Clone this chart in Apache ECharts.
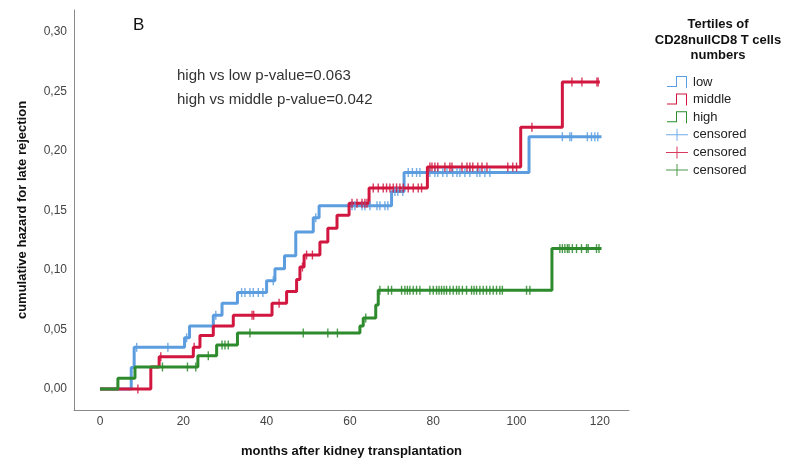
<!DOCTYPE html>
<html lang="en">
<head>
<meta charset="UTF-8">
<title>Cumulative hazard</title>
<script src="https://cdn.jsdelivr.net/npm/echarts@6/dist/echarts.min.js"></script>
<style>
    html, body { margin: 0; padding: 0; background: #fff; }
    #chart { width: 791px; height: 461px; }
</style>
</head>
<body>
<div id="chart"></div>
<script>
    // tick labels
    var xTicks = [0, 20, 40, 60, 80, 100, 120];
    var yTicks = [0, 0.05, 0.10, 0.15, 0.20, 0.25, 0.30];

    // step points [month, cumulative hazard]
    var lowSteps = [[0, 0], [7.5, 0.018], [8.2, 0.035], [20.3, 0.043], [21.5, 0.053], [27.2, 0.062], [29.3, 0.072],
        [33, 0.081], [40, 0.091], [42, 0.101], [44.3, 0.112], [47, 0.132], [51.2, 0.144], [52.6, 0.154],
        [70, 0.166], [73, 0.182], [103, 0.212], [120.4, 0.212]];
    var middleSteps = [[0, 0], [12.2, 0.0185], [14.2, 0.027], [22.4, 0.035], [24, 0.045], [27.2, 0.053], [32, 0.062],
        [41.3, 0.072], [44.8, 0.082], [47.2, 0.092], [48, 0.1025], [49, 0.1126], [52.8, 0.1235], [54.7, 0.135],
        [56.9, 0.146], [59.8, 0.156], [64.6, 0.169], [78.6, 0.1865], [101, 0.22], [111, 0.258], [120, 0.258]];
    var highSteps = [[0, 0], [4.3, 0.009], [8.4, 0.0185], [23.5, 0.028], [28, 0.037], [33, 0.047], [62.4, 0.053],
        [63.2, 0.0597], [66.2, 0.0706], [66.8, 0.083], [108.5, 0.118], [120.4, 0.118]];

    // censoring times
    var lowCensored = [8.8, 16.3, 20.8, 27.8, 34, 34.8, 36, 36.8, 38, 39.1, 41.6, 51.8, 60.5, 61.2, 62.9, 63.6, 64.8,
        66.5, 67.2, 68.4, 69.1, 70.8, 71.5, 72.7, 74, 75, 76, 76.8, 79.2, 80.4, 81.1, 82.3, 83.3, 84.7, 85.7, 86.4,
        87.6, 88.8, 90.5, 91.2, 92.4, 93.6, 111, 112.8, 113.2, 117, 118, 118.8, 119.5];
    var middleCensored = [9.1, 14.6, 22.6, 36.5, 36.9, 43, 48.6, 49.6, 51, 60.5, 61.7, 62.9, 63.6, 64.1, 65.6, 66.8,
        68, 68.8, 69.6, 70.4, 71.2, 72, 72.8, 74, 75.2, 76.4, 77.2, 79.2, 79.7, 80.4, 81.1, 82.8, 84, 84.5, 86.9,
        88.1, 88.8, 89.5, 90.7, 91.7, 92.9, 97.9, 99.1, 100, 103.7, 113.3, 115.7, 119.3, 119.6];
    var highCensored = [15, 21, 23, 26, 29.3, 30, 30.8, 36, 48.8, 54.7, 57, 63.8, 67.2, 69.2, 70, 72.4, 73.2, 73.8,
        74.4, 75.2, 76, 76.8, 79.2, 80, 80.8, 81.4, 82, 82.6, 83.2, 84, 84.8, 85.6, 86.2, 87, 88, 89.2, 89.8, 90.4,
        91.2, 92, 92.8, 93.6, 94.4, 95.2, 96, 96.6, 102.4, 103.2, 110.4, 111, 111.6, 112.2, 112.6, 113.4, 114.4,
        115.6, 116.8, 117.2, 119.2, 119.8];

    var groupNames = ['low', 'middle', 'high'];
    var censorNames = ['censored', 'censored ', 'censored  '];
    var colors = ['#5c9ddf', '#d1163f', '#2d8a2d'];

    function hazardAt(steps, t) {
        var h = 0;
        for (var i = 0; i < steps.length; i++) {
            if (steps[i][0] <= t) h = steps[i][1];
        }
        return h;
    }
    function censorPoints(steps, times) {
        return times.map(function (t) { return [t, hazardAt(steps, t)]; });
    }

    var font = 'Liberation Sans, Arial, sans-serif';
    var stepIcon = 'path://M0,10 L9,10 L9,0 L20,0 L20,12 L19,12 L19,1 L10,1 L10,11 L0,11 Z';
    var plusIcon = 'path://M0,5.5 L22,5.5 L22,6.5 L0,6.5 Z M10.5,0 L11.5,0 L11.5,12 L10.5,12 Z';

    var allSteps = [lowSteps, middleSteps, highSteps];
    var allCensored = [lowCensored, middleCensored, highCensored];

    var series = [];
    groupNames.forEach(function (name, i) {
        series.push({
            name: name,
            type: 'line',
            step: 'end',
            data: allSteps[i],
            showSymbol: false,
            lineStyle: { width: 3, color: colors[i] },
            itemStyle: { color: colors[i] },
            z: 2
        });
    });
    censorNames.forEach(function (name, i) {
        series.push({
            name: name,
            type: 'scatter',
            data: censorPoints(allSteps[i], allCensored[i]),
            symbol: 'rect',
            symbolSize: [1.4, 9],
            itemStyle: { color: colors[i], opacity: 0.85 },
            z: 3
        });
    });

    var legendData = groupNames.map(function (n) { return { name: n, icon: stepIcon }; })
        .concat(censorNames.map(function (n) { return { name: n, icon: plusIcon }; }));

    var option = {
        animation: false,
        backgroundColor: '#fff',
        textStyle: { fontFamily: font },
        grid: { left: 74, right: 162, top: 10, bottom: 51, outerBoundsMode: 'none', containLabel: false },
        xAxis: {
            type: 'value',
            min: -6.24,
            max: 127,
            name: 'months after kidney transplantation',
            nameLocation: 'middle',
            nameGap: 35,
            nameTextStyle: { fontSize: 13, fontWeight: 'bold', color: '#111', fontFamily: font },
            axisLine: { onZero: false, lineStyle: { color: '#8a8a8a', width: 1 } },
            axisTick: { show: false },
            splitLine: { show: false },
            axisLabel: { customValues: xTicks, color: '#444', fontSize: 12, margin: 6, fontFamily: font }
        },
        yAxis: {
            type: 'value',
            min: -0.01765,
            max: 0.3185,
            name: 'cumulative hazard for late rejection',
            nameLocation: 'middle',
            nameGap: 45,
            nameTextStyle: { fontSize: 13, fontWeight: 'bold', color: '#111', fontFamily: font },
            axisLine: { onZero: false, show: true, lineStyle: { color: '#8a8a8a', width: 1 } },
            axisTick: { show: false },
            splitLine: { show: false },
            axisLabel: {
                customValues: yTicks, color: '#444', fontSize: 12, margin: 7, fontFamily: font,
                formatter: function (v) { return v.toFixed(2).replace('.', ','); }
            }
        },
        legend: {
            orient: 'vertical',
            left: 661,
            top: 70,
            itemWidth: 22,
            itemHeight: 12,
            itemGap: 3.6,
            data: legendData,
            textStyle: { fontSize: 13, color: '#222', fontFamily: font, lineHeight: 14 }
        },
        graphic: [
            { type: 'text', left: 133, top: 17, style: { text: 'B', fill: '#111', font: '17px ' + font } },
            { type: 'text', left: 177, top: 68, style: { text: 'high vs low p-value=0.063', fill: '#333', font: '15px ' + font } },
            { type: 'text', left: 177, top: 92, style: { text: 'high vs middle p-value=0.042', fill: '#333', font: '15px ' + font } },
            {
                type: 'text', x: 718, y: 17,
                style: {
                    text: 'Tertiles of\nCD28nullCD8 T cells\nnumbers',
                    align: 'center', fill: '#111', lineHeight: 15.5,
                    font: 'bold 13px ' + font
                }
            }
        ],
        series: series
    };

    var myChart = echarts.init(document.getElementById('chart'));
    myChart.setOption(option);
</script>
</body>
</html>
